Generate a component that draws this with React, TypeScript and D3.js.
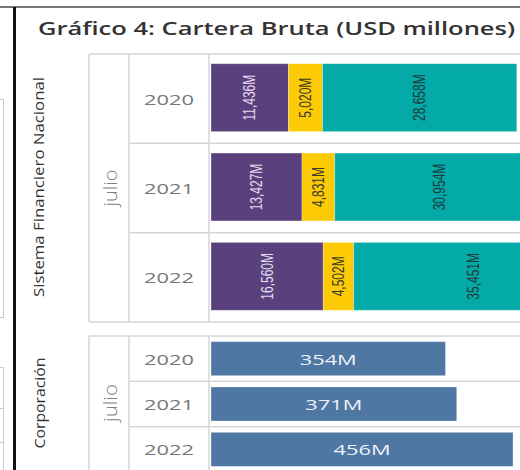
import * as d3 from "d3";
import React from "react";

// data (USD millones, julio de cada año)
const years = ["2020", "2021", "2022"];
const sfnPurple = [11436, 13427, 16560];
const sfnYellow = [5020, 4831, 4502];
const sfnTeal = [28658, 30954, 35451];
const corpValues = [354, 371, 456];
const segmentColors = ["#5b407e", "#fdcb06", "#03aaa7"];
const segmentLabelColors = ["#e4dcef", "#3a3a2a", "#1d3c3c"];

const W = 520;
const H = 470;
const fmt = (v: number) => d3.format(",")(v) + "M";

const gridColor = "#d5d5d5";

export default function App() {
  // layout
  const colA = 89; // start of "julio" column
  const colB = 129; // start of year column
  const colC = 209; // start of bars
  const barX0 = 211;

  // scales
  const x1 = d3.scaleLinear().domain([0, 45150]).range([barX0, 517]);
  const x2 = d3.scaleLinear().domain([0, 456]).range([barX0, 513]);
  const y1 = d3.scaleBand().domain(years).range([54, 322]);
  const y2 = d3.scaleBand().domain(years).range([336, 472]);

  const b1 = y1.bandwidth();
  const bar1H = b1 * 0.76;
  const b2 = y2.bandwidth();
  const bar2H = b2 * 0.75;

  const stacks = years.map((yr, i) => {
    const vals = [sfnPurple[i], sfnYellow[i], sfnTeal[i]];
    let acc = 0;
    return vals.map((v, k) => {
      const seg = { year: yr, k, v, x0: acc, x1: acc + v };
      acc += v;
      return seg;
    });
  });

  const rowLine = (y: number, x0: number) => (
    <line x1={x0} x2={W} y1={y} y2={y} stroke={gridColor} strokeWidth={1.5} />
  );

  return (
    <svg
      width={W}
      height={H}
      style={{ position: "absolute", left: 0, top: 0, background: "#fff" }}
      fontFamily="'Open Sans', sans-serif"
    >
      {/* frame bits from the surrounding dashboard */}
      <line x1={0} x2={W} y1={7} y2={7} stroke="#4a4a4a" strokeWidth={1.5} />
      <line x1={14.5} x2={14.5} y1={7} y2={H} stroke="#111" strokeWidth={3} />
      <path d="M0,99.5H3.5V317.5H0" fill="none" stroke="#c8c8c8" />
      <path d="M0,367.5H3.5V470" fill="none" stroke="#c8c8c8" />
      <line x1={0} x2={3.5} y1={408.5} y2={408.5} stroke="#c8c8c8" />
      <line x1={0} x2={3.5} y1={442.5} y2={442.5} stroke="#c8c8c8" />

      <text
        x={38}
        y={35}
        fontSize={18}
        fontWeight={600}
        fill="#333"
        textLength={477}
        lengthAdjust="spacingAndGlyphs"
      >
        Gráfico 4: Cartera Bruta (USD millones)
      </text>

      {/* panel 1: Sistema Financiero Nacional */}
      <g>
        {rowLine(54, colA)}
        {years.slice(1).map((yr) => (
          <g key={yr}>{rowLine(y1(yr)!, colB)}</g>
        ))}
        {rowLine(322, colA)}
        {[colA, colB, colC].map((x) => (
          <line key={x} x1={x} x2={x} y1={54} y2={322} stroke={gridColor} strokeWidth={1.5} />
        ))}
        <text
          transform={`translate(38,187) rotate(-90)`}
          textAnchor="middle"
          dominantBaseline="central"
          fontSize={14}
          fill="#333"
          textLength={220}
          lengthAdjust="spacingAndGlyphs"
        >
          Sistema Financiero Nacional
        </text>
        <text
          transform={`translate(110,${(54 + 322) / 2}) scale(1.2,1) rotate(-90)`}
          textAnchor="middle"
          dominantBaseline="central"
          fontSize={15}
          fontWeight={300}
          fill="#808080"
          textLength={37}
          lengthAdjust="spacingAndGlyphs"
        >
          julio
        </text>
        {years.map((yr) => (
          <text
            key={yr}
            x={169}
            y={y1(yr)! + b1 / 2}
            textAnchor="middle"
            dominantBaseline="central"
            fontSize={15}
            fill="#777"
            textLength={50}
            lengthAdjust="spacingAndGlyphs"
          >
            {yr}
          </text>
        ))}
        {stacks.map((segs) =>
          segs.map((s) => {
            const top = y1(s.year)! + (b1 - bar1H) / 2 - 1;
            const xa = x1(s.x0);
            const xb = x1(s.x1);
            const cx = (xa + xb) / 2;
            const cy = top + bar1H / 2;
            return (
              <g key={s.year + s.k}>
                <rect
                  x={xa}
                  y={top}
                  width={xb - xa}
                  height={bar1H}
                  fill={segmentColors[s.k]}
                  stroke="#fff"
                  strokeOpacity={0.35}
                  strokeWidth={0.8}
                />
                <text
                  transform={`translate(${cx},${cy}) scale(1.3,1) rotate(-90)`}
                  textAnchor="middle"
                  dominantBaseline="central"
                  fontSize={12}
                  fontFamily="'Liberation Sans', Arial, sans-serif"
                  fill={segmentLabelColors[s.k]}
                >
                  {fmt(s.v)}
                </text>
              </g>
            );
          })
        )}
      </g>

      {/* panel 2: Corporación */}
      <g>
        {rowLine(336, colA)}
        {years.slice(1).map((yr) => (
          <g key={yr}>{rowLine(y2(yr)!, colB)}</g>
        ))}
        {[colA, colB, colC].map((x) => (
          <line key={x} x1={x} x2={x} y1={336} y2={H} stroke={gridColor} strokeWidth={1.5} />
        ))}
        <text
          transform={`translate(39,403) rotate(-90)`}
          textAnchor="middle"
          dominantBaseline="central"
          fontSize={14}
          fill="#333"
          textLength={91}
          lengthAdjust="spacingAndGlyphs"
        >
          Corporación
        </text>
        <text
          transform={`translate(110,403) scale(1.2,1) rotate(-90)`}
          textAnchor="middle"
          dominantBaseline="central"
          fontSize={15}
          fontWeight={300}
          fill="#808080"
          textLength={38}
          lengthAdjust="spacingAndGlyphs"
        >
          julio
        </text>
        {years.map((yr) => (
          <text
            key={yr}
            x={169}
            y={y2(yr)! + b2 / 2}
            textAnchor="middle"
            dominantBaseline="central"
            fontSize={15}
            fill="#777"
            textLength={50}
            lengthAdjust="spacingAndGlyphs"
          >
            {yr}
          </text>
        ))}
        {years.map((yr, i) => {
          const top = y2(yr)! + (b2 - bar2H) / 2;
          const xb = x2(corpValues[i]);
          return (
            <g key={yr}>
              <rect
                x={barX0}
                y={top}
                width={xb - barX0}
                height={bar2H}
                fill="#4e77a4"
                stroke="#fff"
                strokeOpacity={0.35}
                strokeWidth={0.8}
              />
              <text
                x={(barX0 + xb) / 2}
                y={top + bar2H / 2}
                textAnchor="middle"
                dominantBaseline="central"
                fontSize={15}
                fill="#eef2f8"
                textLength={57}
                lengthAdjust="spacingAndGlyphs"
              >
                {fmt(corpValues[i])}
              </text>
            </g>
          );
        })}
      </g>
    </svg>
  );
}
